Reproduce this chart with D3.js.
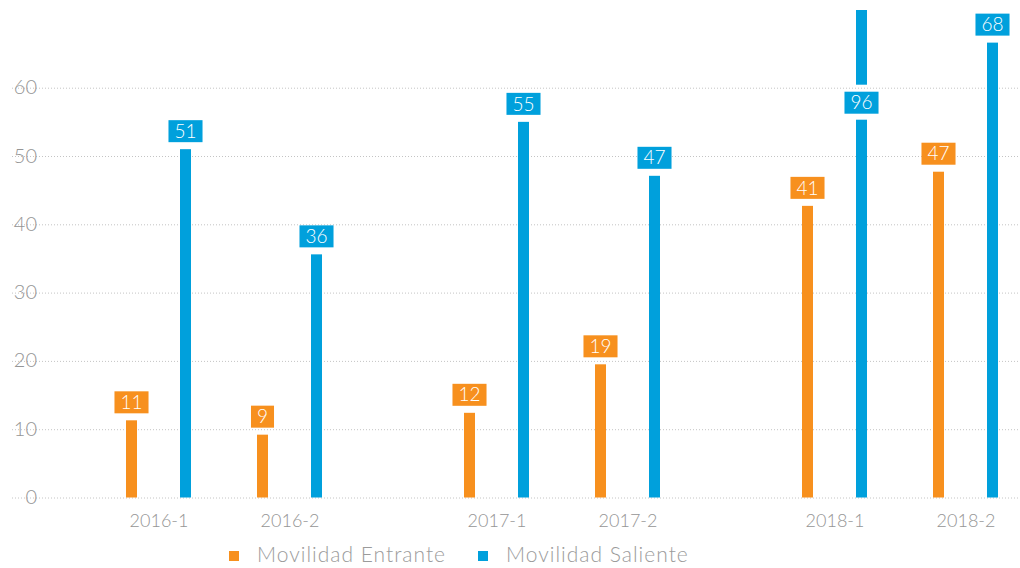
<!DOCTYPE html>
<html>
<head>
	<meta charset='utf-8'>
	<title>Movilidad</title>
	<style>
		body { margin: 0; background: #fff; }
		svg { display: block; font-family: Lato, 'Open Sans', sans-serif; font-weight: 300; }
		.grid line { stroke: #c4c4c4; stroke-dasharray: 1,2; }
		.grid path, .axis path { display: none; }
		.axis text { fill: #959595; font-size: 18px; font-family: Lato, 'Open Sans', sans-serif; font-weight: 300; }
		.axis.eje-y text { font-size: 20px; }
		.valor text { fill: #fff; font-size: 19px; }
		.leyenda text { fill: #9b9b9b; font-size: 21px; letter-spacing: 1px; }
	</style>
</head>
<body>
<div id="chart"></div>
<script src="https://cdn.jsdelivr.net/npm/d3@7"></script>
<script>
	'use strict';

	// Datos
	const periodos = ['2016-1', '2016-2', '2017-1', '2017-2', '2018-1', '2018-2'];
	const anios = ['2016', '2017', '2018'];
	const semestres = ['1', '2'];
	const series = ['Movilidad Entrante', 'Movilidad Saliente'];
	const colores = ['#f7901e', '#00a0dc'];
	// alto de las barras tal como se ve
	const entrante = [11.3, 9.2, 12.4, 19.5, 42.7, 47.7];
	const saliente = [51, 35.6, 55, 47.1, 96, 66.6];
	// etiquetas que se muestran sobre las barras
	const etiquetasEntrante = ['11', '9', '12', '19', '41', '47'];
	const etiquetasSaliente = ['51', '36', '55', '47', '96', '68'];
	const yTicks = [0, 10, 20, 30, 40, 50, 60];

	const width = 1020;
	const height = 568;
	const plotTop = 10;

	const svg = d3.select('#chart').append('svg')
		.attr('width', width)
		.attr('height', height);

	const yMax = d3.max(yTicks);
	const y = d3.scaleLinear().domain([0, yMax]).range([497.5, 87.7]);
	const yTope = y.invert(plotTop); // valor que llega al borde de arriba

	const xAnio = d3.scalePoint().domain(anios).range([224, 900]);
	const xSem = d3.scalePoint().domain(semestres).range([-65.5, 65.5]);
	const xSerie = d3.scalePoint().domain(series).range([-27, 27]);
	const xPeriodo = p => xAnio(p.split('-')[0]) + xSem(p.split('-')[1]);
	const barW = 11;

	// rejilla
	svg.append('g')
		.attr('class', 'grid')
		.attr('transform', 'translate(12,0)')
		.call(d3.axisRight(y).tickValues(yTicks).tickSize(width - 12).tickFormat(''));

	// eje y
	svg.append('g')
		.attr('class', 'axis eje-y')
		.attr('transform', 'translate(37,0)')
		.call(d3.axisLeft(y).tickValues(yTicks).tickSize(0).tickPadding(0))
		.selectAll('text').attr('dy', '0.3em');

	// eje x
	svg.append('g')
		.attr('class', 'axis')
		.attr('transform', 'translate(0,' + y(0) + ')')
		.call(d3.axisBottom(d3.scaleOrdinal().domain(periodos).range(periodos.map(xPeriodo)))
			.tickSize(0).tickPadding(17));

	const datos = [];
	periodos.forEach((p, i) => {
		datos.push({periodo: p, serie: series[0], valor: entrante[i], etiqueta: etiquetasEntrante[i]});
		datos.push({periodo: p, serie: series[1], valor: saliente[i], etiqueta: etiquetasSaliente[i]});
	});

	const color = d3.scaleOrdinal().domain(series).range(colores);
	const boxH = 22;
	const gap = 7;

	datos.forEach(d => {
		const cx = xPeriodo(d.periodo) + xSerie(d.serie);
		const g = svg.append('g').attr('class', 'valor');
		const cortada = d.valor > yTope;
		const top = Math.max(y(d.valor), plotTop);

		// caja de la etiqueta
		const boxTop = cortada ? y(yMax) + 4 : top - gap - boxH;

		const txt = g.append('text')
			.attr('x', cx)
			.attr('y', boxTop + boxH / 2)
			.attr('dy', '0.35em')
			.attr('text-anchor', 'middle')
			.text(d.etiqueta);
		const tw = txt.node().getComputedTextLength() + 12;

		g.insert('rect', 'text')
			.attr('x', cx - tw / 2)
			.attr('y', boxTop)
			.attr('width', tw)
			.attr('height', boxH)
			.attr('fill', color(d.serie));

		// barra (partida si se sale por arriba)
		const tramos = cortada
			? [[top, boxTop - gap], [boxTop + boxH + 6, y(0)]]
			: [[top, y(0)]];
		g.selectAll('rect.barra')
			.data(tramos)
			.enter().insert('rect', 'rect')
			.attr('class', 'barra')
			.attr('x', cx - barW / 2)
			.attr('y', t => t[0])
			.attr('width', barW)
			.attr('height', t => t[1] - t[0])
			.attr('fill', color(d.serie));
	});

	// leyenda
	const leyX = [229, 478];
	const ley = svg.append('g').attr('class', 'leyenda');
	series.forEach((s, i) => {
		ley.append('rect')
			.attr('x', leyX[i])
			.attr('y', 551)
			.attr('width', 10)
			.attr('height', 10)
			.attr('fill', color(s));
		ley.append('text')
			.attr('x', leyX[i] + 28)
			.attr('y', 562)
			.text(s);
	});
</script>
</body>
</html>
